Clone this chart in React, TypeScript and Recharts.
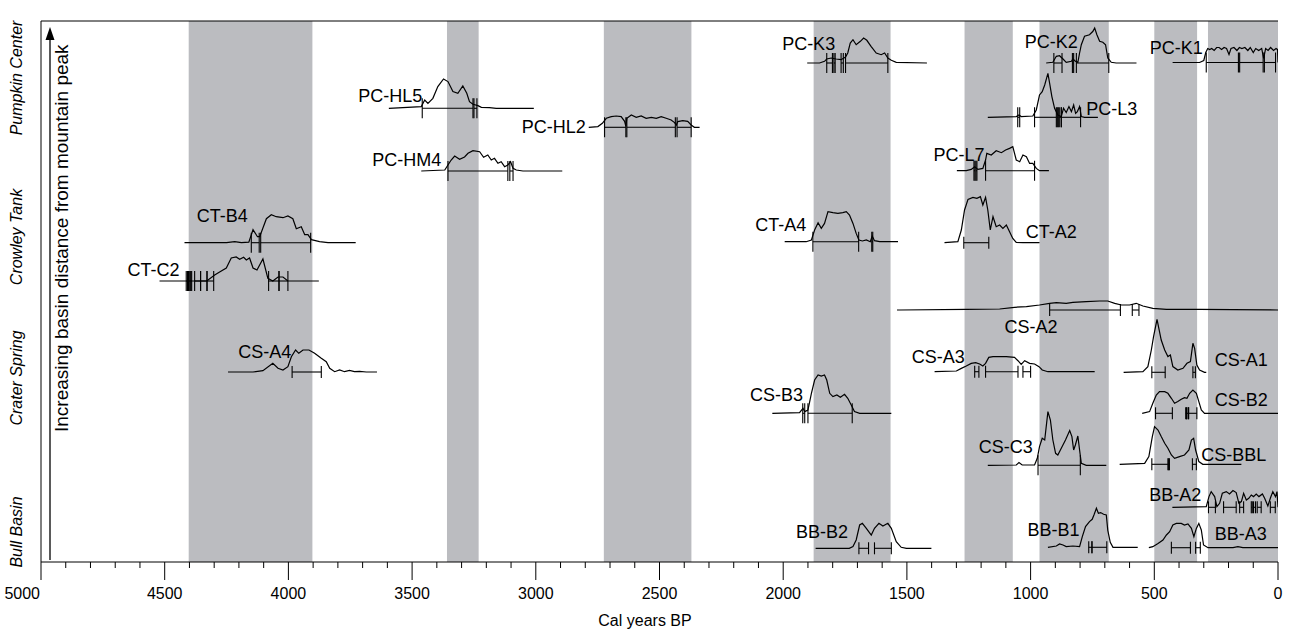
import React from 'react';
import { ComposedChart, Line, XAxis, YAxis, ReferenceArea, ReferenceLine, Scatter, ErrorBar } from 'recharts';

// calibrated age distributions: [cal yr BP, relative probability height]
// levels are row offsets on the (unlabelled) vertical axis
const PC_K3 = [[1903,0],[1853,0],[1833,1.7],[1824,4],[1806,5],[1786,4],[1766,3.3],[1748,6],[1739,10],[1729,20],[1718,23.3],[1705,18.3],[1688,21.7],[1675,25],[1662,22.7],[1645,16.7],[1624,10],[1604,8.3],[1590,10],[1577,5],[1563,2.7],[1543,0.7],[1419,0]];
const PC_K3_RANGES = [[1824,1801],[1795,1790],[1766,1757],[1748,1577]];

const PC_K2 = [[937,0],[910,0.7],[896,6.7],[883,7.3],[869,4],[856,0.7],[835,1.7],[829,4],[819,1.7],[809,0.7],[802,10],[795,18.3],[782,26.7],[762,28.3],[748,31.7],[741,35],[732,28.3],[721,21.7],[708,20.7],[697,18.3],[688,5],[674,0.7],[654,0],[572,0]];
const PC_K2_RANGES = [[906,873],[831,826],[815,684]];

const PC_K1 = [[426,0],[317,0],[300,2],[292,10],[284,14],[276,13],[268,14],[258,12],[248,15],[238,15],[228,13],[218,15],[208,14],[198,8],[190,14],[178,15],[166,12],[156,15],[146,14],[134,15],[122,12],[112,15],[100,10],[90,14],[78,12],[66,14],[58,4],[50,14],[40,12],[30,15],[18,12],[8,14],[2,13],[0,0]];
const PC_K1_RANGES = [[290,160],[155,60],[55,10]];

const PC_HL5 = [[3594,0],[3463,1.7],[3449,8.3],[3436,5],[3416,10],[3396,21.7],[3373,29.3],[3355,26.7],[3335,16.7],[3315,15],[3295,22.3],[3279,15],[3268,6.7],[3254,4],[3234,2.7],[3220,1],[3187,0.7],[3160,0],[3008,0]];
const PC_HL5_RANGES = [[3459,3254],[3250,3238]];

const PC_L3 = [[1173,0],[1058,0.7],[1047,2.3],[1038,0.7],[991,1.3],[977,7.3],[964,22.3],[953,25.7],[943,32.3],[930,44],[923,34],[914,20.7],[903,9],[890,2.3],[876,0.7],[867,9],[856,4.7],[845,10.7],[835,5.7],[826,12.3],[818,4],[811,5.7],[802,10.7],[795,0.7],[782,0],[728,0]];
const PC_L3_RANGES = [[1052,1044],[984,896],[892,888],[884,876],[876,798]];

const PC_HL2 = [[2786,0],[2749,0.7],[2731,4],[2715,9],[2695,10.7],[2675,11.3],[2655,10.7],[2641,6],[2636,1],[2632,9],[2614,12.3],[2594,10],[2574,11.3],[2554,9],[2533,10],[2513,9],[2493,10.7],[2473,9],[2453,7.3],[2439,4.7],[2432,2.3],[2426,5.7],[2406,6.7],[2386,6],[2372,2.3],[2359,0],[2338,0]];
const PC_HL2_RANGES = [[2722,2636],[2632,2436],[2429,2372]];

const PC_HM4 = [[3463,0],[3368,1],[3355,6],[3342,11],[3328,15],[3308,11.7],[3288,14],[3274,17.7],[3254,20.3],[3227,19.3],[3211,13.7],[3194,16],[3180,11],[3167,12.7],[3153,7.7],[3140,9.3],[3126,4.3],[3113,6],[3102,9.3],[3092,2.7],[3079,1],[3052,0],[2893,0]];
const PC_HM4_RANGES = [[3355,3113],[3105,3092]];

const PC_L7 = [[1298,0],[1260,0],[1240,1.3],[1226,4],[1213,1.3],[1193,2.3],[1182,10.7],[1177,17.3],[1159,15.7],[1139,20],[1118,18],[1101,20.7],[1085,22.3],[1072,24],[1058,10.7],[1044,9],[1031,15.7],[1017,14],[1004,7.3],[991,7.3],[977,2.3],[964,0],[926,0]];
const PC_L7_RANGES = [[1229,1225],[1221,1217],[1182,984]];

const CT_B4 = [[4420,0],[4250,0],[4217,1],[4190,0],[4160,0.5],[4143,13],[4125,6],[4116,6],[4089,24],[4069,28],[4049,26],[4022,25],[4002,26.7],[3982,24],[3968,14],[3948,16],[3934,8],[3921,8],[3907,3],[3874,1],[3840,0],[3728,0]];
const CT_B4_RANGES = [[4150,4118],[4112,3910]];

const CT_A4 = [[1994,0],[1907,0],[1886,1.7],[1873,11.7],[1859,19],[1846,13.3],[1833,18.3],[1819,30],[1799,29],[1779,28.3],[1759,29],[1745,30],[1732,26.7],[1718,18.3],[1705,8.3],[1694,1.7],[1680,0.7],[1664,1.7],[1648,0],[1640,5.7],[1631,1],[1610,0],[1536,0]];
const CT_A4_RANGES = [[1880,1695],[1642,1638]];

const CT_A2 = [[1348,0],[1294,1],[1280,12.7],[1267,32.7],[1253,43.3],[1233,45.3],[1217,44.3],[1203,46],[1193,37.7],[1182,45.3],[1173,32.7],[1163,12.7],[1152,26],[1139,16],[1125,17.7],[1112,14.3],[1098,17.7],[1085,11],[1072,4.3],[1058,0.3],[1031,0],[964,0]];
const CT_A2_RANGES = [[1270,1169]];

const CT_C2 = [[4521,0],[4330,0],[4298,6],[4278,9],[4251,13],[4231,23],[4211,24],[4197,21.7],[4181,23.7],[4170,21],[4157,23],[4143,13],[4127,11],[4103,22],[4083,2.7],[4063,0],[4042,4],[4022,4],[4002,0],[3877,0]];
const CT_C2_RANGES = [[4413,4408],[4404,4399],[4395,4391],[4379,4355],[4355,4329],[4329,4302],[4080,4038],[4038,4002]];

const CS_A2 = [[1540,0],[1530,0],[1260,0.7],[1125,1],[1065,2.7],[1017,3.3],[964,5],[923,6.7],[896,7.3],[856,6.7],[829,7.7],[775,8.3],[721,9],[688,9],[660,6.7],[633,5],[600,5],[573,6.7],[546,4],[506,1.7],[451,0.7],[317,0.7],[182,0.3],[0,0]];
const CS_A2_RANGES = [[923,637],[589,562]];

const CS_A4 = [[4244,0],[4143,0],[4103,1.3],[4063,8.7],[4042,3.7],[4022,2],[4002,5.3],[3988,15.3],[3971,22],[3958,18.7],[3941,22],[3917,22],[3894,18.7],[3867,13.7],[3847,10.3],[3833,3.7],[3813,0.3],[3793,2],[3773,0.3],[3753,1.7],[3733,0.3],[3712,0.7],[3685,0],[3642,0]];
const CS_A4_RANGES = [[3985,3867]];

const CS_A3 = [[1388,0],[1300,0.7],[1280,3.3],[1260,5.7],[1240,8.3],[1222,9],[1206,7.7],[1193,5.7],[1182,8.3],[1169,14.3],[1152,15],[1125,15],[1098,15],[1065,14.3],[1051,11],[1038,7.3],[1024,11],[1004,8.3],[984,7.7],[966,5],[953,1.7],[930,0],[741,0]];
const CS_A3_RANGES = [[1226,1209],[1182,1051],[1031,1000]];

const CS_A1 = [[624,0],[546,0.7],[526,5.7],[512,22.3],[503,35.7],[489,53],[472,32.3],[458,22.3],[445,15.7],[435,17.3],[425,5.7],[405,2.3],[384,4],[368,9],[354,10.7],[344,29],[337,24],[328,7.3],[317,2.3],[297,0],[290,0]];
const CS_A1_RANGES = [[510,456],[344,334]];

const CS_B3 = [[2044,0],[1934,0.7],[1920,5],[1913,1.7],[1900,3.3],[1886,20],[1873,33.3],[1859,38.3],[1846,37.3],[1833,38.3],[1824,33.3],[1812,20],[1799,16.7],[1783,18.3],[1769,16],[1752,19],[1739,15],[1725,8.3],[1712,1.7],[1691,0],[1563,0]];
const CS_B3_RANGES = [[1921,1913],[1900,1721]];

const CS_B2 = [[549,0],[519,1.7],[506,10],[492,18.3],[479,21.7],[458,21.7],[445,20],[431,15],[418,10],[405,11.7],[391,14],[378,15.7],[368,15],[357,20],[344,23.3],[330,20],[320,11.7],[310,3.3],[297,0],[0,0]];
const CS_B2_RANGES = [[495,427],[373,370],[368,362],[361,328]];

const CS_C3 = [[1173,0],[1058,0.3],[1047,2.7],[1034,0.3],[984,0.3],[973,7],[964,18.7],[953,27],[943,25.3],[930,53.7],[920,45.3],[910,25.3],[899,12],[890,10.3],[876,17],[859,25.3],[842,34.7],[833,28.7],[826,15.3],[819,20.3],[809,29.3],[802,15.3],[795,2],[775,0],[694,0]];
const CS_C3_RANGES = [[970,799]];

const CS_BBL = [[640,0],[539,1],[522,7.7],[508,27.7],[499,37.7],[485,34.3],[472,27.7],[458,21],[445,16],[431,9.3],[418,6],[398,7.7],[378,9.3],[360,14.3],[350,24.3],[341,26],[333,14.3],[320,2.7],[304,0],[148,0]];
const CS_BBL_RANGES = [[510,445],[442,439],[346,330]];

const BB_A2 = [[427,0],[290,0.7],[279,10.7],[270,15.7],[256,10.7],[247,0.7],[236,4],[225,14],[209,15.7],[196,13.3],[182,16.7],[169,14.7],[158,4],[148,5.7],[139,14],[128,7.3],[118,9],[108,12.3],[99,10.7],[88,13.3],[77,10.7],[63,13.3],[54,9],[41,1.3],[31,9],[21,15.7],[10,10.7],[4,15.7],[0,0]];
const BB_A2_RANGES = [[281,253],[220,169],[155,139],[108,104],[99,91],[84,68],[31,11]];

const BB_B2 = [[1869,0],[1733,0],[1718,1.7],[1705,8.3],[1691,23.3],[1680,25],[1664,20],[1644,13.3],[1631,20],[1613,25],[1597,22.3],[1577,25],[1563,20],[1543,6.7],[1523,1],[1502,0],[1401,0]];
const BB_B2_RANGES = [[1694,1655],[1631,1563]];

const BB_B1 = [[930,0],[896,1.3],[883,3.3],[869,2.3],[856,0.7],[829,1.3],[802,0.7],[791,10.7],[778,20.7],[762,25.7],[751,28],[744,32.3],[734,39],[726,34],[717,34.7],[705,33],[694,32.3],[688,17],[678,5],[667,0],[567,0]];
const BB_B1_RANGES = [[765,752],[752,692]];

const BB_A3 = [[522,0],[506,1],[485,4.3],[465,7.7],[451,12.7],[438,16],[425,22.7],[411,24.3],[391,24.3],[378,22.7],[364,23.7],[350,19.3],[340,11],[330,19.3],[320,24.3],[310,17.7],[301,2.7],[283,0],[182,0],[162,1],[142,0],[0,0]];
const BB_A3_RANGES = [[431,354],[333,314]];

// shaded intervals (cal yr BP)
const BANDS = [[4403,3903],[3359,3231],[2725,2371],[1877,1566],[1267,1072],[964,684],[500,327],[283,0]];

const GROUPS = ['Pumpkin Center', 'Crowley Tank', 'Crater Spring', 'Bull Basin'];
const GROUP_POS = [484, 325, 184, 30];
const X_TICKS = Array.from({ length: 51 }, (_, i) => i * 100);

const samples = [
  { name: 'PC-K3', level: 499, curve: PC_K3, ranges: PC_K3_RANGES },
  { name: 'PC-K2', level: 499, curve: PC_K2, ranges: PC_K2_RANGES },
  { name: 'PC-K1', level: 499.5, curve: PC_K1, ranges: PC_K1_RANGES },
  { name: 'PC-HL5', level: 453.7, curve: PC_HL5, ranges: PC_HL5_RANGES },
  { name: 'PC-L3', level: 444.7, curve: PC_L3, ranges: PC_L3_RANGES },
  { name: 'PC-HL2', level: 434.7, curve: PC_HL2, ranges: PC_HL2_RANGES },
  { name: 'PC-HM4', level: 391, curve: PC_HM4, ranges: PC_HM4_RANGES },
  { name: 'PC-L7', level: 391.3, curve: PC_L7, ranges: PC_L7_RANGES },
  { name: 'CT-B4', level: 319.3, curve: CT_B4, ranges: CT_B4_RANGES },
  { name: 'CT-A4', level: 320.3, curve: CT_A4, ranges: CT_A4_RANGES },
  { name: 'CT-A2', level: 319.3, curve: CT_A2, ranges: CT_A2_RANGES },
  { name: 'CT-C2', level: 281, curve: CT_C2, ranges: CT_C2_RANGES },
  { name: 'CS-A2', level: 252, curve: CS_A2, ranges: CS_A2_RANGES },
  { name: 'CS-A4', level: 190, curve: CS_A4, ranges: CS_A4_RANGES },
  { name: 'CS-A3', level: 190.3, curve: CS_A3, ranges: CS_A3_RANGES },
  { name: 'CS-A1', level: 189.7, curve: CS_A1, ranges: CS_A1_RANGES },
  { name: 'CS-B3', level: 148.7, curve: CS_B3, ranges: CS_B3_RANGES },
  { name: 'CS-B2', level: 148.7, curve: CS_B2, ranges: CS_B2_RANGES },
  { name: 'CS-C3', level: 96.7, curve: CS_C3, ranges: CS_C3_RANGES },
  { name: 'CS-BBL', level: 97.7, curve: CS_BBL, ranges: CS_BBL_RANGES },
  { name: 'BB-A2', level: 54.7, curve: BB_A2, ranges: BB_A2_RANGES },
  { name: 'BB-B2', level: 13.7, curve: BB_B2, ranges: BB_B2_RANGES },
  { name: 'BB-B1', level: 14.7, curve: BB_B1, ranges: BB_B1_RANGES },
  { name: 'BB-A3', level: 14.3, curve: BB_A3, ranges: BB_A3_RANGES },
];

// label placement: [name, year, offset, anchor]
const LABEL_SPOTS: [string, number, number, 'start' | 'end'][] = [
  ['PC-K3', 1790, 518.7, 'end'], ['PC-K2', 809, 520.3, 'end'], ['PC-K1', 304, 514, 'end'],
  ['PC-HL5', 3459, 466.3, 'end'], ['PC-L3', 775, 453.7, 'start'], ['PC-HL2', 2798, 435.3, 'end'],
  ['PC-HM4', 3382, 402.7, 'end'], ['PC-L7', 1186, 407, 'end'],
  ['CT-B4', 4164, 346, 'end'], ['CT-A4', 1907, 337, 'end'], ['CT-A2', 1020, 330.3, 'start'],
  ['CT-C2', 4440, 292.7, 'end'], ['CS-A2', 1105, 235, 'start'],
  ['CS-A4', 3988, 210.3, 'end'], ['CS-A3', 1266, 205.3, 'end'], ['CS-A1', 256, 202, 'start'],
  ['CS-B3', 1920, 167, 'end'], ['CS-B2', 256, 162, 'start'],
  ['CS-C3', 991, 115.3, 'end'], ['CS-BBL', 310, 107, 'start'],
  ['BB-A2', 310, 67, 'end'], ['BB-B2', 1738, 30.3, 'end'], ['BB-B1', 802, 32, 'end'], ['BB-A3', 256, 28.7, 'start'],
];

const TALL_CAPS = new Set(['PC-K3', 'PC-K2', 'PC-K1', 'PC-HL5', 'PC-L3', 'PC-HL2', 'PC-HM4', 'PC-L7', 'CT-B4', 'CT-A4', 'CT-C2', 'CS-B3', 'CS-C3']);

const FONT = '"Liberation Sans", Arial, Helvetica, sans-serif';
const W = 1290;
const H = 637;

const XTick = (props: any) => {
  const { x, y, payload } = props;
  const major = payload.value % 500 === 0;
  const first = payload.value === 5000;
  return (
    <g>
      <line x1={x} x2={x} y1={y} y2={y + (major ? 18 : 6)} stroke="#000" strokeWidth={1} />
      {major && (
        <text x={first ? x - 1 : x} y={y + 37} textAnchor={first ? 'end' : 'middle'} fontSize={16} fontFamily={FONT} fill="#000">
          {payload.value}
        </text>
      )}
    </g>
  );
};

const GroupTick = (props: any) => {
  const { y, payload } = props;
  const name = GROUPS[GROUP_POS.indexOf(payload.value)];
  return (
    <text transform={`translate(22, ${y}) rotate(-90)`} textAnchor="middle" fontSize={16} fontStyle="italic" fontFamily={FONT} fill="#000">
      {name}
    </text>
  );
};

const LabelShape = (props: any) => {
  const { cx, cy, payload } = props;
  return (
    <text x={cx} y={cy} dy="0.36em" textAnchor={payload.anchor} fontSize={18} fontFamily={FONT} fill="#000">
      {payload.name}
    </text>
  );
};

const Nothing = () => <g />;

export default function App() {
  const lines = samples.map((s) => ({
    name: s.name,
    points: s.curve.map(([x, h]) => ({ x, y: s.level + h })),
  }));
  const bars = (tall: boolean) =>
    samples
      .filter((s) => TALL_CAPS.has(s.name) === tall)
      .flatMap((s) => s.ranges.map(([a, b]) => ({ x: (a + b) / 2, y: s.level, err: (a - b) / 2 })));
  const labels = LABEL_SPOTS.map(([name, x, y, anchor]) => ({ name, x, y, anchor }));

  return (
    <div style={{ position: 'absolute', left: 0, top: 0, width: W, height: H, background: '#fff' }}>
      <ComposedChart width={W} height={H} margin={{ top: 21, right: 12, left: 0, bottom: 0 }}>
        <XAxis
          type="number"
          dataKey="x"
          domain={[0, 5000]}
          reversed
          allowDataOverflow
          ticks={X_TICKS}
          interval={0}
          tickLine={false}
          tickSize={0}
          tickMargin={0}
          tick={<XTick />}
          axisLine={{ stroke: '#000' }}
          height={75}
        />
        <YAxis
          type="number"
          dataKey="y"
          domain={[0, 541]}
          allowDataOverflow
          ticks={GROUP_POS}
          interval={0}
          tickLine={false}
          tick={<GroupTick />}
          axisLine={{ stroke: '#000' }}
          width={41}
        />
        {BANDS.map(([a, b]) => (
          <ReferenceArea key={a} x1={a} x2={b} fill="#bbbcc0" fillOpacity={1} stroke="none" ifOverflow="hidden" />
        ))}
        <ReferenceLine y={541} stroke="#000" />
        {lines.map((l) => (
          <Line
            key={l.name}
            data={l.points}
            dataKey="y"
            type="linear"
            stroke="#000"
            strokeWidth={1.2}
            dot={false}
            activeDot={false}
            isAnimationActive={false}
          />
        ))}
        <Scatter data={bars(true)} shape={<Nothing />} isAnimationActive={false}>
          <ErrorBar dataKey="err" direction="x" width={10} stroke="#000" strokeWidth={1.1} isAnimationActive={false} />
        </Scatter>
        <Scatter data={bars(false)} shape={<Nothing />} isAnimationActive={false}>
          <ErrorBar dataKey="err" direction="x" width={6} stroke="#000" strokeWidth={1.1} isAnimationActive={false} />
        </Scatter>
        <Scatter data={labels} shape={<LabelShape />} isAnimationActive={false} />
      </ComposedChart>
      <svg width={W} height={H} style={{ position: 'absolute', left: 0, top: 0, pointerEvents: 'none' }}>
        <line x1={50} x2={50} y1={560} y2={36} stroke="#000" strokeWidth={1.3} />
        <path d="M50 27 L45.5 40 L54.5 40 Z" fill="#000" />
        <text transform="translate(68, 432) rotate(-90)" fontSize={19} fontFamily={FONT} fill="#000">
          Increasing basin distance from mountain peak
        </text>
        <text x={645} y={626} textAnchor="middle" fontSize={16} fontFamily={FONT} fill="#000">
          Cal years BP
        </text>
      </svg>
    </div>
  );
}
